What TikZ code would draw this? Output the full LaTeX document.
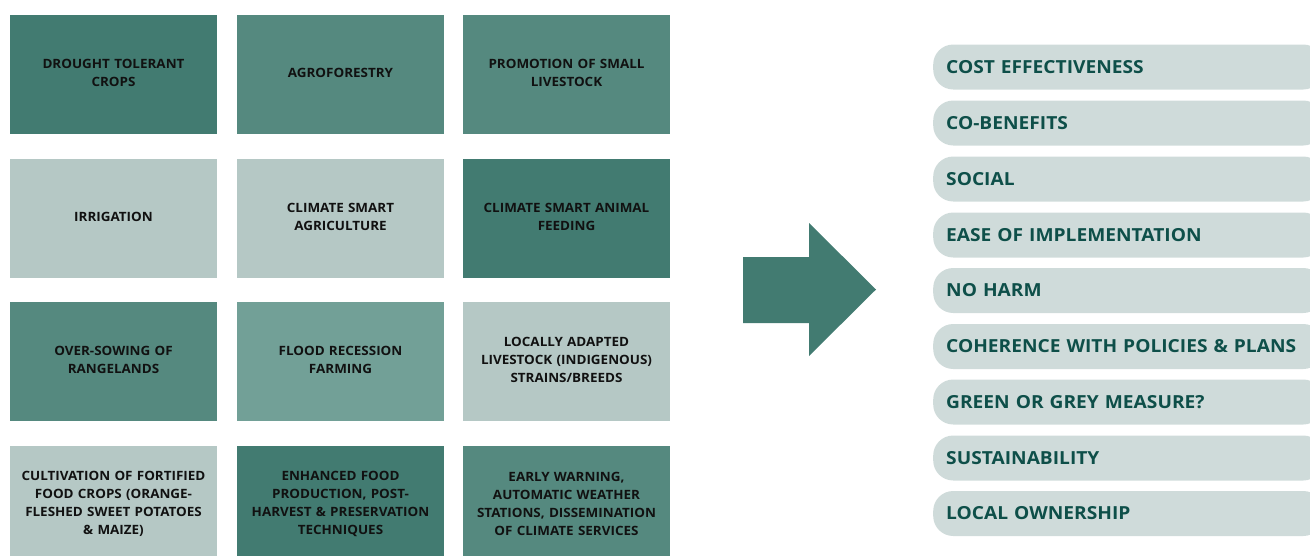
\documentclass[tikz,border=0pt]{standalone}
\usepackage{fontspec}
\setmainfont{Open Sans}
\newfontfamily\pillfont[FakeStretch=1.065]{Open Sans}
\newfontfamily\boxfont[FakeStretch=1.05]{Open Sans}
\definecolor{cdark}{HTML}{427B71}
\definecolor{cmed}{HTML}{55897F}
\definecolor{cflood}{HTML}{72A097}
\definecolor{clight}{HTML}{B5C8C5}
\definecolor{cpill}{HTML}{CFDBDA}
\definecolor{cptext}{HTML}{0E4F49}
\definecolor{cbtext}{HTML}{111111}
\begin{document}
\begin{tikzpicture}[x=1pt,y=-1pt,
  box/.style={minimum width=207pt,minimum height=119pt,inner sep=0pt,text width=200pt,align=center,
    font=\boxfont\fontsize{12.8}{18}\selectfont\bfseries,text=cbtext},
  boxtxt/.style={inner sep=0pt,text width=200pt,align=center,
    font=\boxfont\fontsize{12.8}{18}\selectfont\bfseries,text=cbtext},
  pill/.style={anchor=west,fill=cpill,rounded corners=20pt,minimum width=390pt,minimum height=45pt,
    inner xsep=13pt,text width=364pt,align=left,font=\pillfont\fontsize{18}{20}\selectfont\bfseries,text=cptext}]
\useasboundingbox (0,0) rectangle (1310,555);
% grid
\node[box,fill=cdark] (b11) at (113.5,74.5) {};
\node[box,fill=cmed] (b12) at (340.5,74.5) {};
\node[box,fill=cmed] (b13) at (566.5,74.5) {};
\node[box,fill=clight] (b21) at (113.5,218.5) {};
\node[box,fill=clight] (b22) at (340.5,218.5) {};
\node[box,fill=cdark] (b23) at (566.5,218.5) {};
\node[box,fill=cmed] (b31) at (113.5,361.5) {};
\node[box,fill=cflood] (b32) at (340.5,361.5) {};
\node[box,fill=clight] (b33) at (566.5,361.5) {};
\node[box,fill=clight] (b41) at (113.5,505.5) {};
\node[box,fill=cdark] (b42) at (340.5,505.5) {};
\node[box,fill=cmed] (b43) at (566.5,505.5) {};
\node[boxtxt] (t11) at ([yshift=1.5pt]b11.center) {DROUGHT TOLERANT\\CROPS};
\node[boxtxt] (t12) at ([yshift=1.5pt]b12.center) {AGROFORESTRY};
\node[boxtxt] (t13) at ([yshift=1.5pt]b13.center) {PROMOTION OF SMALL\\LIVESTOCK};
\node[boxtxt] (t21) at ([yshift=1.5pt]b21.center) {IRRIGATION};
\node[boxtxt] (t22) at ([yshift=1.5pt]b22.center) {CLIMATE SMART\\AGRICULTURE};
\node[boxtxt] (t23) at ([yshift=1.5pt]b23.center) {CLIMATE SMART ANIMAL\\FEEDING};
\node[boxtxt] (t31) at ([yshift=1.5pt]b31.center) {OVER-SOWING OF\\RANGELANDS};
\node[boxtxt] (t32) at ([yshift=1.5pt]b32.center) {FLOOD RECESSION\\FARMING};
\node[boxtxt] (t33) at ([yshift=1.5pt]b33.center) {LOCALLY ADAPTED\\LIVESTOCK (INDIGENOUS)\\STRAINS/BREEDS};
\node[boxtxt] (t41) at ([yshift=1.5pt]b41.center) {CULTIVATION OF FORTIFIED\\FOOD CROPS (ORANGE-\\FLESHED SWEET POTATOES\\\& MAIZE)};
\node[boxtxt] (t42) at ([yshift=1.5pt]b42.center) {ENHANCED FOOD\\PRODUCTION, POST-\\HARVEST \& PRESERVATION\\TECHNIQUES};
\node[boxtxt] (t43) at ([yshift=1.5pt]b43.center) {EARLY WARNING,\\AUTOMATIC WEATHER\\STATIONS, DISSEMINATION\\OF CLIMATE SERVICES};
% arrow
\fill[cdark] (743,257) -- (809,257) -- (809,223) -- (876,289.5) -- (809,356) -- (809,323) -- (743,323) -- cycle;
% pills
\node[pill] (p1) at (933,67) {COST EFFECTIVENESS};
\node[pill] (p2) at (933,123) {CO-BENEFITS};
\node[pill] (p3) at (933,179) {SOCIAL};
\node[pill] (p4) at (933,235) {EASE OF IMPLEMENTATION};
\node[pill] (p5) at (933,290.5) {NO HARM};
\node[pill] (p6) at (933,346.5) {COHERENCE WITH POLICIES \& PLANS};
\node[pill] (p7) at (933,402) {GREEN OR GREY MEASURE?};
\node[pill] (p8) at (933,458) {SUSTAINABILITY};
\node[pill] (p9) at (933,513.5) {LOCAL OWNERSHIP};
\end{tikzpicture}
\end{document}
